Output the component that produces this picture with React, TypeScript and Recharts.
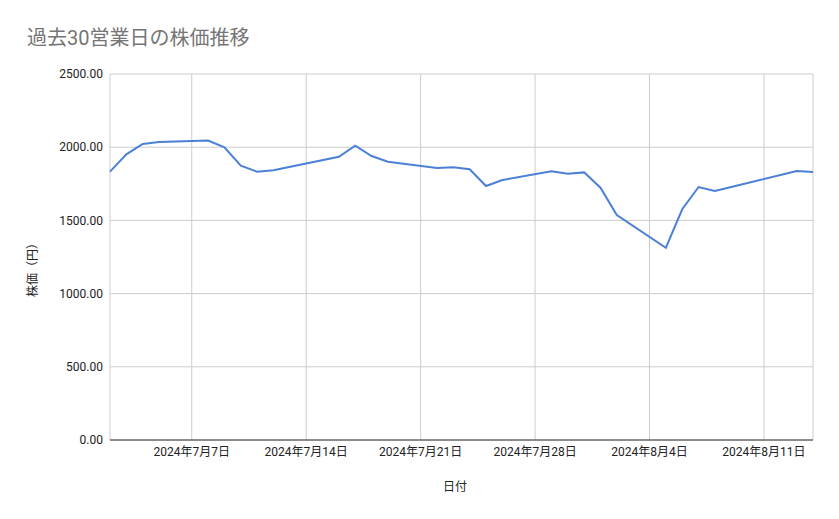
import React from 'react';
import { LineChart, Line, XAxis, YAxis, CartesianGrid, Label } from 'recharts';

const dates: string[] = [
  '2024-07-02', '2024-07-03', '2024-07-04', '2024-07-05',
  '2024-07-08', '2024-07-09', '2024-07-10', '2024-07-11', '2024-07-12',
  '2024-07-16', '2024-07-17', '2024-07-18', '2024-07-19',
  '2024-07-22', '2024-07-23', '2024-07-24', '2024-07-25', '2024-07-26',
  '2024-07-29', '2024-07-30', '2024-07-31', '2024-08-01', '2024-08-02',
  '2024-08-05', '2024-08-06', '2024-08-07', '2024-08-08', '2024-08-09',
  '2024-08-13', '2024-08-14',
];

const prices: number[] = [
  1833, 1951, 2022, 2036,
  2045, 1999, 1874, 1833, 1842,
  1935, 2010, 1940, 1901,
  1858, 1863, 1849, 1735, 1776,
  1835, 1819, 1828, 1723, 1537,
  1313, 1576, 1728, 1701, 1728,
  1837, 1831,
];

const xTickDates: string[] = ['2024-07-07', '2024-07-14', '2024-07-21', '2024-07-28', '2024-08-04', '2024-08-11'];
const yTicks: number[] = [0, 500, 1000, 1500, 2000, 2500];

const toTs = (s: string) => {
  const [y, m, d] = s.split('-').map(Number);
  return Date.UTC(y, m - 1, d);
};

const data = dates.map((d, i) => ({ t: toTs(d), price: prices[i] }));
const xTicks = xTickDates.map(toTs);

const fmtDate = (t: number) => {
  const d = new Date(t);
  return `${d.getUTCFullYear()}年${d.getUTCMonth() + 1}月${d.getUTCDate()}日`;
};

const FONT = "Roboto, 'Noto Sans CJK JP', sans-serif";

export default function App() {
  return (
    <div style={{ position: 'absolute', left: 0, top: 0, width: 839, height: 519, background: '#fff', fontFamily: FONT }}>
      <div style={{ position: 'absolute', left: 27, top: 27, fontSize: 20, lineHeight: '22px', color: '#757575', fontFamily: FONT }}>
        過去30営業日の株価推移
      </div>
      <LineChart width={839} height={519} data={data} margin={{ top: 74, right: 26, bottom: 0, left: 0 }}>
        <CartesianGrid stroke="#cccccc" strokeWidth={1} />
        <XAxis
          dataKey="t"
          type="number"
          scale="linear"
          domain={[toTs(dates[0]), toTs(dates[dates.length - 1])]}
          ticks={xTicks}
          tickFormatter={fmtDate}
          tickLine={false}
          tickSize={0}
          tickMargin={7}
          axisLine={{ stroke: '#333333', strokeWidth: 1 }}
          tick={{ fontSize: 12, fill: '#222222', fontFamily: FONT }}
          height={79}
          interval={0}
        >
          <Label
            content={() => (
              <text x={455} y={491} textAnchor="middle" fontSize={12} fill="#222222" fontFamily={FONT}>
                日付
              </text>
            )}
          />
        </XAxis>
        <YAxis
          type="number"
          domain={[0, 2500]}
          ticks={yTicks}
          tickFormatter={(v: number) => v.toFixed(2)}
          tickLine={false}
          tickSize={0}
          tickMargin={7}
          axisLine={false}
          width={110}
          tick={{ fontSize: 12, fill: '#222222', fontFamily: FONT }}
          interval={0}
        >
          <Label
            content={() => (
              <text
                x={33}
                y={267}
                textAnchor="middle"
                dominantBaseline="central"
                fontSize={12}
                fill="#222222"
                fontFamily={FONT}
                transform="rotate(-90, 33, 267)"
              >
                株価（円）
              </text>
            )}
          />
        </YAxis>
        <Line
          type="linear"
          dataKey="price"
          stroke="#4a80d6"
          strokeWidth={2}
          dot={false}
          activeDot={false}
          isAnimationActive={false}
        />
      </LineChart>
    </div>
  );
}
